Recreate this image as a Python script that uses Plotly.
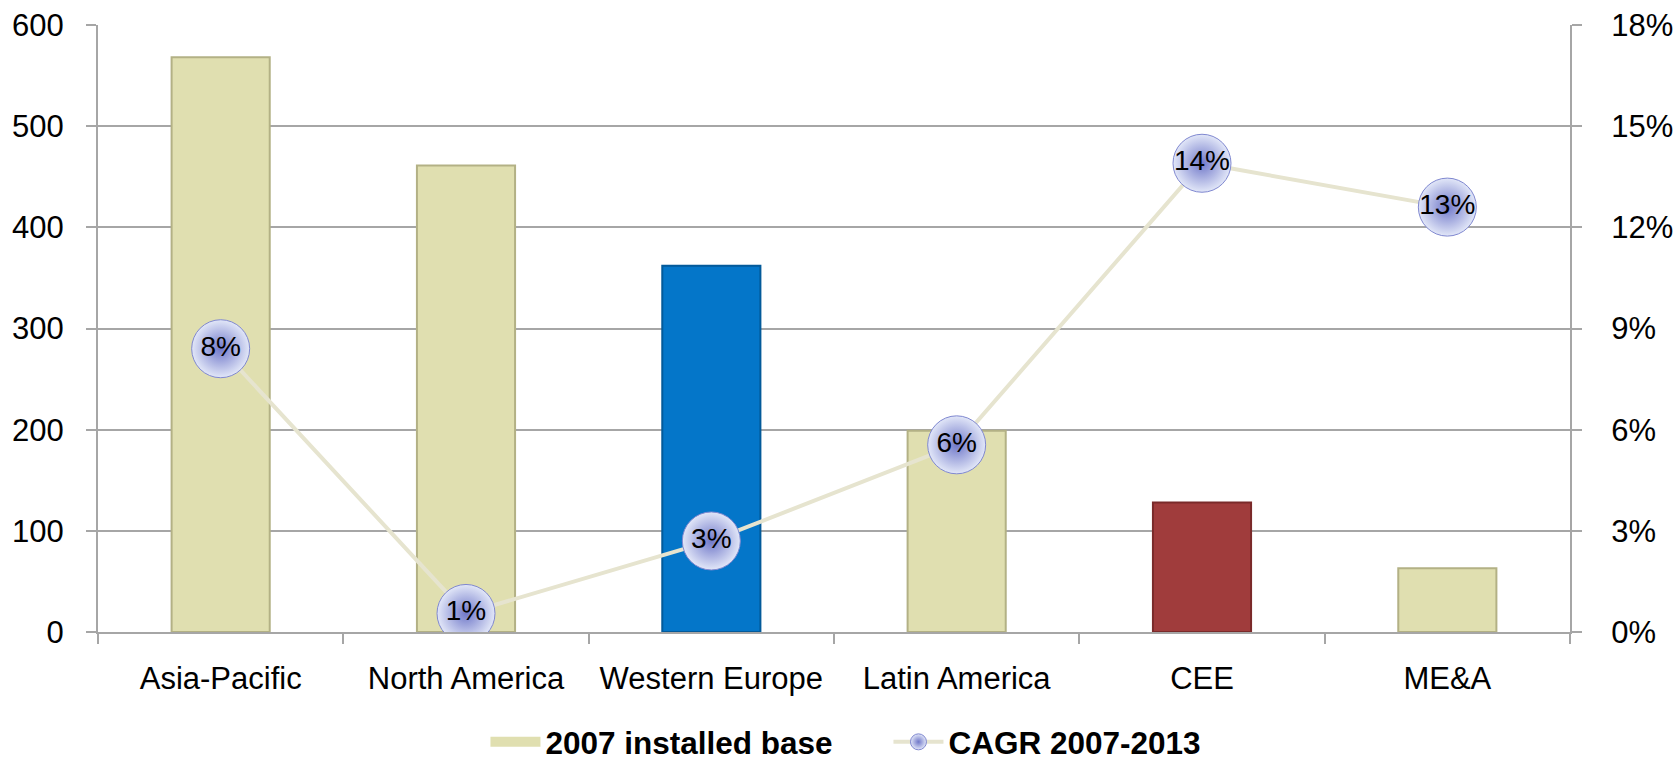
import plotly.graph_objects as go

# Regions and their values
regions = ["Asia-Pacific", "North America", "Western Europe", "Latin America", "CEE", "ME&A"]
installed_base_2007 = [568, 461, 362, 199, 128, 63]
cagr_2007_2013 = [8.4, 0.55, 2.7, 5.55, 13.9, 12.6]

bar_colors = ["#E0DFB0", "#E0DFB0", "#0476C9", "#E0DFB0", "#A03C3C", "#E0DFB0"]
bar_edges = ["#B3B185", "#B3B185", "#035A9A", "#B3B185", "#7A2A2A", "#B3B185"]

left_ticks = [0, 100, 200, 300, 400, 500, 600]
right_ticks = [0, 3, 6, 9, 12, 15, 18]

GRID = "#A6A6A6"
BEIGE = "#E0DFB0"
FONT = "Liberation Sans, Arial, sans-serif"

fig = go.Figure()

fig.add_trace(go.Bar(
    x=regions,
    y=installed_base_2007,
    name="2007 installed base",
    width=0.4,
    marker=dict(color=bar_colors, line=dict(color=bar_edges, width=2)),
    showlegend=False,
    yaxis="y",
))

# Legend entry for the bars, drawn as a wide swatch
fig.add_trace(go.Scatter(
    x=[None],
    y=[None],
    name="2007 installed base",
    mode="lines",
    line=dict(color=BEIGE, width=16),
    hoverinfo="skip",
    yaxis="y",
))

fig.add_trace(go.Scatter(
    x=regions,
    y=cagr_2007_2013,
    name="CAGR 2007-2013",
    mode="lines+markers",
    line=dict(color="#E6E4CF", width=4),
    marker=dict(
        size=58,
        color="#E2E7F8",
        gradient=dict(type="radial", color="#7078C9"),
        line=dict(color="#8088D0", width=1),
    ),
    yaxis="y2",
))

# Percentage labels on the markers
fig.add_trace(go.Scatter(
    x=regions,
    y=cagr_2007_2013,
    mode="text",
    text=[f"{round(v + 1e-9):.0f}%" for v in cagr_2007_2013],
    textposition="middle center",
    textfont=dict(family=FONT, size=28, color="#000000"),
    showlegend=False,
    hoverinfo="skip",
    yaxis="y2",
))

fig.update_layout(
    width=1679,
    height=765,
    margin=dict(l=98, r=109, t=25, b=133, autoexpand=False),
    paper_bgcolor="white",
    plot_bgcolor="white",
    font=dict(family=FONT, size=31, color="#000000"),
    showlegend=True,
    legend=dict(
        orientation="h",
        x=0.537,
        xanchor="center",
        y=-0.181,
        yanchor="middle",
        font=dict(family=FONT, size=31.5, color="#000000", weight="bold"),
        itemwidth=50,
        entrywidth=338,
        tracegroupgap=0,
    ),
    xaxis=dict(
        type="category",
        showline=True,
        linecolor=GRID,
        linewidth=2,
        ticks="outside",
        tickson="boundaries",
        ticklen=10,
        tickcolor=GRID,
        tickwidth=2,
        ticklabelstandoff=18,
        showgrid=False,
        automargin=False,
        tickfont=dict(size=31),
    ),
    yaxis=dict(
        range=[0, 600],
        tickvals=left_ticks,
        showline=True,
        linecolor=GRID,
        linewidth=2,
        ticks="outside",
        ticklen=10,
        tickcolor=GRID,
        tickwidth=2,
        ticklabelstandoff=16,
        showgrid=True,
        gridcolor=GRID,
        gridwidth=2,
        zeroline=False,
        automargin=False,
        tickfont=dict(size=31),
    ),
    yaxis2=dict(
        range=[0, 18],
        tickvals=right_ticks,
        ticktext=[f"{t}%" for t in right_ticks],
        overlaying="y",
        side="right",
        showline=True,
        linecolor=GRID,
        linewidth=2,
        ticks="outside",
        ticklen=10,
        tickcolor=GRID,
        tickwidth=2,
        ticklabelstandoff=23,
        showgrid=False,
        zeroline=False,
        automargin=False,
        tickfont=dict(size=31),
    ),
)

fig.write_html("out.html")
